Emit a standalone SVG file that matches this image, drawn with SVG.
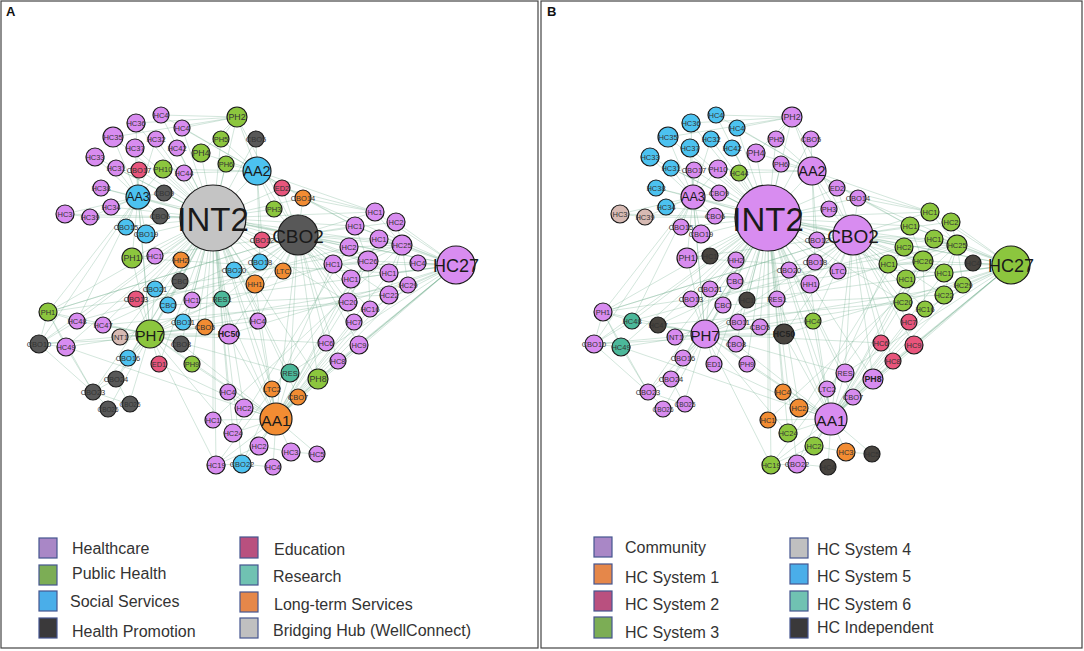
<svg xmlns="http://www.w3.org/2000/svg" xmlns:xlink="http://www.w3.org/1999/xlink" width="1084" height="651" viewBox="0 0 1084 651">
<style>
.e{fill:none;stroke:#6aaa88;stroke-opacity:.4;stroke-width:.75}
circle{stroke:#1b1b1b;stroke-width:1.2}
text{font-family:"Liberation Sans",Arial,sans-serif;fill:#333}
.t{font-size:7.5px;text-anchor:middle;dominant-baseline:central}
.s{font-size:6.4px;text-anchor:middle;dominant-baseline:central}
.m{font-size:8.8px;text-anchor:middle;dominant-baseline:central}
.b{font-weight:bold;fill:#222}
.big{text-anchor:middle;dominant-baseline:central;fill:#1a1a1a}
.hc,.co{fill:#d88cf0}.ph,.s3{fill:#8cc63e}.ss,.s5{fill:#4cc2f0}.hp{fill:#585858}.ed,.s2{fill:#e8557c}.re,.s6{fill:#4cb89a}.lt,.s1{fill:#f28c32}.br{fill:#c4c4c4}.in,.s4{fill:#d7bab3}.ind{fill:#48443f}
.sw{stroke:#45558f;stroke-width:1.2}
.lg{font-size:16px}
.pl{font-size:13px;font-weight:bold;fill:#111}
.fr{fill:#fff;stroke:#444;stroke-width:1.2}
</style>
<defs>
<g id="edges">
<path class="e" d="M213 218L161 115M213 218L136 123M213 218L182 128M213 218L113 137M213 218L156 139M213 218L237 117M213 218L221 139M213 218L256 139M213 218L95 157M213 218L135 148M213 218L177 148M213 218L201 153M213 218L226 164M213 218L257 171M213 218L116 168M213 218L139 170M213 218L163 169M213 218L184 173M213 218L101 188M213 218L164 193M213 218L138 197M213 218L111 207M213 218L65 214M213 218L90 217M213 218L160 216M213 218L126 227M213 218L146 234M213 218L132 258M213 218L155 256M213 218L181 260M213 218L234 270M213 218L180 281M213 218L282 188M213 218L303 198M213 218L274 209M213 218L298 235M213 218L262 240M213 218L260 262M213 218L283 271M213 218L375 212M213 218L355 226M213 218L349 247M213 218L333 264M213 218L255 284M213 218L258 321M213 218L348 302M213 218L290 373M213 218L318 379M213 218L272 389M213 218L298 397M213 218L276 419M213 218L228 392M213 218L244 408M213 218L213 420M213 218L233 433M213 218L216 465M213 218L242 464M213 218L155 289M213 218L136 299M213 218L168 305M213 218L192 300M213 218L222 299M213 218L48 312M213 218L77 321M213 218L103 325M213 218L150 334M213 218L120 337M213 218L183 322M213 218L205 327M213 218L229 334M213 218L181 344M213 218L39 344M213 218L66 347M213 218L128 358M213 218L159 364M213 218L192 364M213 218L116 379M213 218L93 392M213 218L456 265M213 218L402 245M213 218L368 261"/>
<path class="e" d="M298 235L375 212M298 235L396 222M298 235L355 226M298 235L379 239M298 235L349 247M298 235L402 245M298 235L333 264M298 235L368 261M298 235L351 279M298 235L389 273M298 235L348 302M298 235L370 309M298 235L389 295M298 235L456 265M298 235L257 171M298 235L303 198M298 235L282 188M298 235L274 209M298 235L262 240M298 235L260 262M298 235L283 271M298 235L255 284M298 235L258 321M298 235L290 373M298 235L318 379M298 235L276 419M298 235L229 334M298 235L150 334M298 235L138 197M298 235L237 117M298 235L354 322M298 235L326 343M298 235L359 345M298 235L338 361M298 235L222 299M298 235L132 258M298 235L48 312M298 235L103 325"/>
<path class="e" d="M150 334L48 312M150 334L77 321M150 334L103 325M150 334L39 344M150 334L66 347M150 334L120 337M150 334L128 358M150 334L159 364M150 334L192 364M150 334L116 379M150 334L93 392M150 334L109 408M150 334L129 404M150 334L155 289M150 334L136 299M150 334L168 305M150 334L183 322M150 334L205 327M150 334L229 334M150 334L181 344M150 334L180 281M150 334L276 419M150 334L233 433M150 334L216 465M150 334L290 373M150 334L222 299M150 334L132 258M150 334L138 197M150 334L258 321M150 334L348 302M150 334L326 343"/>
<path class="e" d="M276 419L228 392M276 419L244 408M276 419L213 420M276 419L233 433M276 419L259 446M276 419L291 452M276 419L317 454M276 419L216 465M276 419L242 464M276 419L273 467M276 419L272 389M276 419L298 397M276 419L290 373M276 419L318 379M276 419L326 343M276 419L338 361M276 419L359 345M276 419L354 322M276 419L348 302M276 419L370 309M276 419L389 295M276 419L408 285M276 419L192 364M276 419L181 344M276 419L229 334M276 419L258 321M276 419L255 284M276 419L222 299M276 419L159 364M276 419L351 279M276 419L389 273"/>
<path class="e" d="M456 265L375 212M456 265L396 222M456 265L402 245M456 265L368 261M456 265L418 263M456 265L389 273M456 265L408 285M456 265L389 295M456 265L351 279M456 265L333 264M456 265L379 239M456 265L355 226M456 265L370 309M456 265L348 302M456 265L359 345M456 265L338 361M456 265L318 379M456 265L298 397M456 265L290 373M456 265L303 198M456 265L229 334M456 265L276 419M402 245L375 212M402 245L396 222M402 245L379 239M402 245L368 261M402 245L389 273M402 245L349 247M402 245L355 226M402 245L333 264M402 245L408 285M402 245L389 295M368 261L333 264M368 261L349 247M368 261L351 279M368 261L389 273M368 261L379 239M368 261L355 226M368 261L348 302M368 261L370 309"/>
<path class="e" d="M138 197L113 137M138 197L136 123M138 197L95 157M138 197L116 168M138 197L139 170M138 197L101 188M138 197L111 207M138 197L65 214M138 197L90 217M138 197L126 227M138 197L146 234M138 197L160 216M138 197L164 193M138 197L163 169M138 197L135 148M138 197L156 139M138 197L132 258M138 197L48 312M138 197L39 344M138 197L77 321M138 197L150 334M257 171L237 117M257 171L221 139M257 171L256 139M257 171L201 153M257 171L226 164M257 171L282 188M257 171L303 198M257 171L274 209M257 171L262 240M257 171L260 262M257 171L184 173M257 171L163 169M257 171L182 128M257 171L161 115M257 171L375 212M257 171L355 226"/>
<path class="e" d="M65 214L90 217M48 312L66 347M48 312L39 344M48 312L77 321M48 312L93 392M48 312L136 299M39 344L93 392M39 344L66 347M39 344L77 321M93 392L109 408M93 392L129 404M93 392L116 379M93 392L66 347M116 379L129 404M120 337L333 264M103 325L348 302M77 321L349 247M48 312L298 235M39 344L229 334M66 347L276 419M155 289L402 245M136 299L368 261M132 258L389 273M168 305L389 295M183 322L408 285M192 300L456 265M213 420L402 245M216 465L368 261M233 433L349 247M242 464L333 264M259 446L379 239M237 117L161 115M237 117L182 128M237 117L136 123M237 117L201 153M237 117L221 139M237 117L113 137M303 198L375 212M303 198L355 226M282 188L375 212M216 465L242 464M216 465L259 446M242 464L273 467M291 452L317 454M259 446L291 452"/>
</g>
</defs>
<rect class="fr" x="1" y="1" width="537" height="647"/>
<rect class="fr" x="541" y="1" width="541" height="647"/>
<text class="pl" x="6" y="16">A</text>
<text class="pl" x="547" y="16">B</text>
<g id="connectors">
<use xlink:href="#edges" href="#edges"/>
<use xlink:href="#edges" href="#edges" x="555"/>
</g>
<g id="nodes-a">
<g id="a1"><circle class="hc" cx="161" cy="115" r="8"/><text class="t" x="161" y="115">HC4</text></g>
<g id="a2"><circle class="hc" cx="136" cy="123" r="9"/><text class="t" x="136" y="123">HC36</text></g>
<g id="a3"><circle class="hc" cx="182" cy="128" r="8"/><text class="t" x="182" y="128">HC4</text></g>
<g id="a4"><circle class="hc" cx="113" cy="137" r="10"/><text class="t" x="113" y="137">HC35</text></g>
<g id="a5"><circle class="hc" cx="156" cy="139" r="8"/><text class="t" x="156" y="139">HC32</text></g>
<g id="a6"><circle class="ph" cx="237" cy="117" r="10"/><text class="m" x="237" y="117">PH2</text></g>
<g id="a7"><circle class="ph" cx="221" cy="139" r="8"/><text class="t" x="221" y="139">PH5</text></g>
<g id="a8"><circle class="hp" cx="256" cy="139" r="8"/><text class="t" x="256" y="139">CBO5</text></g>
<g id="a9"><circle class="hc" cx="95" cy="157" r="9"/><text class="t" x="95" y="157">HC33</text></g>
<g id="a10"><circle class="hc" cx="135" cy="148" r="9"/><text class="t" x="135" y="148">HC37</text></g>
<g id="a11"><circle class="hc" cx="177" cy="148" r="8"/><text class="t" x="177" y="148">HC42</text></g>
<g id="a12"><circle class="ph" cx="201" cy="153" r="9"/><text class="m" x="201" y="153">PH4</text></g>
<g id="a13"><circle class="ph" cx="226" cy="164" r="8"/><text class="t" x="226" y="164">PH6</text></g>
<g id="a14"><circle class="ss" cx="257" cy="171" r="14"/><text class="big" x="257" y="171" font-size="14.5">AA2</text></g>
<g id="a15"><circle class="hc" cx="116" cy="168" r="8"/><text class="t" x="116" y="168">HC31</text></g>
<g id="a16"><circle class="ed" cx="139" cy="170" r="8"/><text class="t" x="139" y="170">CBO17</text></g>
<g id="a17"><circle class="ph" cx="163" cy="169" r="9"/><text class="t" x="163" y="169">PH10</text></g>
<g id="a18"><circle class="hc" cx="184" cy="173" r="8"/><text class="t" x="184" y="173">HC44</text></g>
<g id="a19"><circle class="hc" cx="101" cy="188" r="8"/><text class="t" x="101" y="188">HC38</text></g>
<g id="a20"><circle class="hp" cx="164" cy="193" r="8"/><text class="t" x="164" y="193">CBO9</text></g>
<g id="a21"><circle class="ss" cx="138" cy="197" r="12"/><text class="big" x="138" y="197" font-size="12.5">AA3</text></g>
<g id="a22"><circle class="br" cx="213" cy="218" r="33"/><text class="big" x="213" y="219" font-size="33">INT2</text></g>
<g id="a23"><circle class="hc" cx="111" cy="207" r="8"/><text class="t" x="111" y="207">HC34</text></g>
<g id="a24"><circle class="hc" cx="65" cy="214" r="9"/><text class="t" x="65" y="214">HC3</text></g>
<g id="a25"><circle class="hc" cx="90" cy="217" r="8"/><text class="t" x="90" y="217">HC39</text></g>
<g id="a26"><circle class="hp" cx="160" cy="216" r="8"/><text class="t" x="160" y="216">CBO6</text></g>
<g id="a27"><circle class="ss" cx="126" cy="227" r="8"/><text class="t" x="126" y="227">CBO15</text></g>
<g id="a28"><circle class="ss" cx="146" cy="234" r="9"/><text class="t" x="146" y="234">CBO19</text></g>
<g id="a29"><circle class="ph" cx="132" cy="258" r="10"/><text class="m" x="132" y="258">PH1</text></g>
<g id="a30"><circle class="hc" cx="155" cy="256" r="8"/><text class="t" x="155" y="256">HC1</text></g>
<g id="a31"><circle class="lt" cx="181" cy="260" r="8"/><text class="t" x="181" y="260">HH2</text></g>
<g id="a32"><circle class="ss" cx="234" cy="270" r="8"/><text class="t" x="234" y="270">CBO20</text></g>
<g id="a33"><circle class="hp" cx="180" cy="281" r="8"/><text class="t" x="180" y="281">CBO</text></g>
<g id="a34"><circle class="ed" cx="282" cy="188" r="8"/><text class="t" x="282" y="188">ED2</text></g>
<g id="a35"><circle class="lt" cx="303" cy="198" r="8"/><text class="t" x="303" y="198">CBO14</text></g>
<g id="a36"><circle class="ph" cx="274" cy="209" r="8"/><text class="t" x="274" y="209">PH3</text></g>
<g id="a37"><circle class="hp" cx="298" cy="235" r="20"/><text class="big" x="298" y="236" font-size="19">CBO2</text></g>
<g id="a38"><circle class="ed" cx="262" cy="240" r="8"/><text class="t" x="262" y="240">CBO12</text></g>
<g id="a39"><circle class="ss" cx="260" cy="262" r="8"/><text class="t" x="260" y="262">CBO18</text></g>
<g id="a40"><circle class="lt" cx="283" cy="271" r="8"/><text class="t" x="283" y="271">LTC</text></g>
<g id="a41"><circle class="hc" cx="375" cy="212" r="9"/><text class="t" x="375" y="212">HC1</text></g>
<g id="a42"><circle class="hc" cx="396" cy="222" r="9"/><text class="t" x="396" y="222">HC2</text></g>
<g id="a43"><circle class="hc" cx="355" cy="226" r="9"/><text class="t" x="355" y="226">HC1</text></g>
<g id="a44"><circle class="hc" cx="379" cy="239" r="9"/><text class="t" x="379" y="239">HC1</text></g>
<g id="a45"><circle class="hc" cx="349" cy="247" r="9"/><text class="t" x="349" y="247">HC2</text></g>
<g id="a46"><circle class="hc" cx="402" cy="245" r="10"/><text class="t" x="402" y="245">HC25</text></g>
<g id="a47"><circle class="hc" cx="333" cy="264" r="9"/><text class="t" x="333" y="264">HC1</text></g>
<g id="a48"><circle class="hc" cx="368" cy="261" r="10"/><text class="t" x="368" y="261">HC26</text></g>
<g id="a49"><circle class="hc" cx="418" cy="263" r="8"/><text class="t" x="418" y="263">HC4</text></g>
<g id="a50"><circle class="hc" cx="456" cy="265" r="19"/><text class="big" x="456" y="266" font-size="18">HC27</text></g>
<g id="a51"><circle class="hc" cx="351" cy="279" r="9"/><text class="t" x="351" y="279">HC1</text></g>
<g id="a52"><circle class="hc" cx="389" cy="273" r="9"/><text class="t" x="389" y="273">HC1</text></g>
<g id="a53"><circle class="hc" cx="408" cy="285" r="8"/><text class="t" x="408" y="285">HC29</text></g>
<g id="a54"><circle class="hc" cx="389" cy="295" r="9"/><text class="t" x="389" y="295">HC22</text></g>
<g id="a55"><circle class="hc" cx="348" cy="302" r="9"/><text class="t" x="348" y="302">HC20</text></g>
<g id="a56"><circle class="hc" cx="370" cy="309" r="8"/><text class="t" x="370" y="309">HC16</text></g>
<g id="a57"><circle class="lt" cx="255" cy="284" r="9"/><text class="t" x="255" y="284">HH1</text></g>
<g id="a58"><circle class="hc" cx="258" cy="321" r="8"/><text class="t" x="258" y="321">HC4</text></g>
<g id="a59"><circle class="hc" cx="354" cy="322" r="8"/><text class="t" x="354" y="322">HC7</text></g>
<g id="a60"><circle class="hc" cx="326" cy="343" r="8"/><text class="t" x="326" y="343">HC6</text></g>
<g id="a61"><circle class="hc" cx="359" cy="345" r="9"/><text class="t" x="359" y="345">HC9</text></g>
<g id="a62"><circle class="hc" cx="338" cy="361" r="8"/><text class="t" x="338" y="361">HC8</text></g>
<g id="a63"><circle class="re" cx="290" cy="373" r="9"/><text class="t" x="290" y="373">RES</text></g>
<g id="a64"><circle class="ph" cx="318" cy="379" r="10"/><text class="m" x="318" y="379">PH8</text></g>
<g id="a65"><circle class="lt" cx="272" cy="389" r="8"/><text class="t" x="272" y="389">LTC2</text></g>
<g id="a66"><circle class="lt" cx="298" cy="397" r="8"/><text class="t" x="298" y="397">CBO7</text></g>
<g id="a67"><circle class="lt" cx="276" cy="419" r="16"/><text class="big" x="276" y="420" font-size="15.5">AA1</text></g>
<g id="a68"><circle class="hc" cx="228" cy="392" r="8"/><text class="t" x="228" y="392">HC4</text></g>
<g id="a69"><circle class="hc" cx="244" cy="408" r="9"/><text class="t" x="244" y="408">HC2</text></g>
<g id="a70"><circle class="hc" cx="213" cy="420" r="8"/><text class="t" x="213" y="420">HC1</text></g>
<g id="a71"><circle class="hc" cx="233" cy="433" r="9"/><text class="t" x="233" y="433">HC24</text></g>
<g id="a72"><circle class="hc" cx="259" cy="446" r="9"/><text class="t" x="259" y="446">HC2</text></g>
<g id="a73"><circle class="hc" cx="291" cy="452" r="9"/><text class="t" x="291" y="452">HC3</text></g>
<g id="a74"><circle class="hc" cx="317" cy="454" r="8"/><text class="t" x="317" y="454">HC5</text></g>
<g id="a75"><circle class="hc" cx="216" cy="465" r="9"/><text class="t" x="216" y="465">HC19</text></g>
<g id="a76"><circle class="ss" cx="242" cy="464" r="9"/><text class="t" x="242" y="464">CBO22</text></g>
<g id="a77"><circle class="hc" cx="273" cy="467" r="8"/><text class="t" x="273" y="467">HC4</text></g>
<g id="a78"><circle class="ss" cx="155" cy="289" r="8"/><text class="t" x="155" y="289">CBO21</text></g>
<g id="a79"><circle class="ed" cx="136" cy="299" r="8"/><text class="t" x="136" y="299">CBO13</text></g>
<g id="a80"><circle class="ss" cx="168" cy="305" r="8"/><text class="t" x="168" y="305">CBO</text></g>
<g id="a81"><circle class="hc" cx="192" cy="300" r="8"/><text class="t" x="192" y="300">HC1</text></g>
<g id="a82"><circle class="re" cx="222" cy="299" r="8"/><text class="t" x="222" y="299">RES1</text></g>
<g id="a83"><circle class="ph" cx="48" cy="312" r="9"/><text class="t" x="48" y="312">PH1</text></g>
<g id="a84"><circle class="hc" cx="77" cy="321" r="8"/><text class="t" x="77" y="321">HC48</text></g>
<g id="a85"><circle class="hc" cx="103" cy="325" r="8"/><text class="t" x="103" y="325">HC47</text></g>
<g id="a86"><circle class="ph" cx="150" cy="334" r="14"/><text class="big" x="150" y="335" font-size="15">PH7</text></g>
<g id="a87"><circle class="in" cx="120" cy="337" r="8"/><text class="t" x="120" y="337">INT1</text></g>
<g id="a88"><circle class="ss" cx="183" cy="322" r="8"/><text class="t" x="183" y="322">CBO11</text></g>
<g id="a89"><circle class="lt" cx="205" cy="327" r="8"/><text class="t" x="205" y="327">CBO5</text></g>
<g id="a90"><circle class="hc" cx="229" cy="334" r="10"/><text class="m b" x="229" y="334">HC50</text></g>
<g id="a91"><circle class="hp" cx="181" cy="344" r="8"/><text class="t" x="181" y="344">CBO8</text></g>
<g id="a92"><circle class="hp" cx="39" cy="344" r="9"/><text class="t" x="39" y="344">CBO10</text></g>
<g id="a93"><circle class="hc" cx="66" cy="347" r="9"/><text class="t" x="66" y="347">HC49</text></g>
<g id="a94"><circle class="ss" cx="128" cy="358" r="8"/><text class="t" x="128" y="358">CBO16</text></g>
<g id="a95"><circle class="ed" cx="159" cy="364" r="8"/><text class="t" x="159" y="364">ED1</text></g>
<g id="a96"><circle class="ph" cx="192" cy="364" r="8"/><text class="t" x="192" y="364">PH9</text></g>
<g id="a97"><circle class="hp" cx="116" cy="379" r="8"/><text class="t" x="116" y="379">CBO24</text></g>
<g id="a98"><circle class="hp" cx="93" cy="392" r="8"/><text class="t" x="93" y="392">CBO23</text></g>
<g id="a99"><circle class="hp" cx="108" cy="409" r="8"/><text class="s" x="108" y="409">CBO26</text></g>
<g id="a100"><circle class="hp" cx="130" cy="404" r="8"/><text class="s" x="130" y="404">CBO25</text></g>
</g>
<g id="nodes-b">
<g id="b1"><circle class="s5" cx="716" cy="115" r="8"/><text class="t" x="716" y="115">HC4</text></g>
<g id="b2"><circle class="s5" cx="691" cy="123" r="9"/><text class="t" x="691" y="123">HC36</text></g>
<g id="b3"><circle class="s5" cx="737" cy="128" r="8"/><text class="t" x="737" y="128">HC4</text></g>
<g id="b4"><circle class="s5" cx="668" cy="137" r="10"/><text class="t" x="668" y="137">HC35</text></g>
<g id="b5"><circle class="s5" cx="711" cy="139" r="8"/><text class="t" x="711" y="139">HC32</text></g>
<g id="b6"><circle class="co" cx="792" cy="117" r="10"/><text class="m" x="792" y="117">PH2</text></g>
<g id="b7"><circle class="co" cx="776" cy="139" r="8"/><text class="t" x="776" y="139">PH5</text></g>
<g id="b8"><circle class="co" cx="811" cy="139" r="8"/><text class="t" x="811" y="139">CBO5</text></g>
<g id="b9"><circle class="s5" cx="650" cy="157" r="9"/><text class="t" x="650" y="157">HC33</text></g>
<g id="b10"><circle class="s5" cx="690" cy="148" r="9"/><text class="t" x="690" y="148">HC37</text></g>
<g id="b11"><circle class="s5" cx="732" cy="148" r="8"/><text class="t" x="732" y="148">HC42</text></g>
<g id="b12"><circle class="co" cx="756" cy="153" r="9"/><text class="m" x="756" y="153">PH4</text></g>
<g id="b13"><circle class="co" cx="781" cy="164" r="8"/><text class="t" x="781" y="164">PH6</text></g>
<g id="b14"><circle class="co" cx="812" cy="171" r="14"/><text class="big" x="812" y="171" font-size="14.5">AA2</text></g>
<g id="b15"><circle class="s5" cx="671" cy="168" r="8"/><text class="t" x="671" y="168">HC31</text></g>
<g id="b16"><circle class="co" cx="694" cy="170" r="8"/><text class="t" x="694" y="170">CBO17</text></g>
<g id="b17"><circle class="co" cx="718" cy="169" r="9"/><text class="t" x="718" y="169">PH10</text></g>
<g id="b18"><circle class="s3" cx="739" cy="173" r="8"/><text class="t" x="739" y="173">HC44</text></g>
<g id="b19"><circle class="s5" cx="656" cy="188" r="8"/><text class="t" x="656" y="188">HC38</text></g>
<g id="b20"><circle class="co" cx="719" cy="193" r="8"/><text class="t" x="719" y="193">CBO9</text></g>
<g id="b21"><circle class="co" cx="693" cy="197" r="12"/><text class="big" x="693" y="197" font-size="12.5">AA3</text></g>
<g id="b22"><circle class="co" cx="768" cy="218" r="33"/><text class="big" x="768" y="219" font-size="33">INT2</text></g>
<g id="b23"><circle class="s5" cx="666" cy="207" r="8"/><text class="t" x="666" y="207">HC34</text></g>
<g id="b24"><circle class="s4" cx="620" cy="214" r="9"/><text class="t" x="620" y="214">HC3</text></g>
<g id="b25"><circle class="s4" cx="645" cy="217" r="8"/><text class="t" x="645" y="217">HC39</text></g>
<g id="b26"><circle class="co" cx="715" cy="216" r="8"/><text class="t" x="715" y="216">CBO6</text></g>
<g id="b27"><circle class="co" cx="681" cy="227" r="8"/><text class="t" x="681" y="227">CBO15</text></g>
<g id="b28"><circle class="co" cx="701" cy="234" r="9"/><text class="t" x="701" y="234">CBO19</text></g>
<g id="b29"><circle class="co" cx="687" cy="258" r="10"/><text class="m" x="687" y="258">PH1</text></g>
<g id="b30"><circle class="ind" cx="710" cy="256" r="8"/><text class="t" x="710" y="256">HC1</text></g>
<g id="b31"><circle class="co" cx="736" cy="260" r="8"/><text class="t" x="736" y="260">HH2</text></g>
<g id="b32"><circle class="co" cx="789" cy="270" r="8"/><text class="t" x="789" y="270">CBO20</text></g>
<g id="b33"><circle class="co" cx="735" cy="281" r="8"/><text class="t" x="735" y="281">CBO</text></g>
<g id="b34"><circle class="co" cx="837" cy="188" r="8"/><text class="t" x="837" y="188">ED2</text></g>
<g id="b35"><circle class="co" cx="858" cy="198" r="8"/><text class="t" x="858" y="198">CBO14</text></g>
<g id="b36"><circle class="co" cx="829" cy="209" r="8"/><text class="t" x="829" y="209">PH3</text></g>
<g id="b37"><circle class="co" cx="853" cy="235" r="20"/><text class="big" x="853" y="236" font-size="19">CBO2</text></g>
<g id="b38"><circle class="co" cx="817" cy="240" r="8"/><text class="t" x="817" y="240">CBO12</text></g>
<g id="b39"><circle class="co" cx="815" cy="262" r="8"/><text class="t" x="815" y="262">CBO18</text></g>
<g id="b40"><circle class="co" cx="838" cy="271" r="8"/><text class="t" x="838" y="271">LTC</text></g>
<g id="b41"><circle class="s3" cx="930" cy="212" r="9"/><text class="t" x="930" y="212">HC1</text></g>
<g id="b42"><circle class="s3" cx="951" cy="222" r="9"/><text class="t" x="951" y="222">HC2</text></g>
<g id="b43"><circle class="s3" cx="910" cy="226" r="9"/><text class="t" x="910" y="226">HC1</text></g>
<g id="b44"><circle class="s3" cx="934" cy="239" r="9"/><text class="t" x="934" y="239">HC1</text></g>
<g id="b45"><circle class="s3" cx="904" cy="247" r="9"/><text class="t" x="904" y="247">HC2</text></g>
<g id="b46"><circle class="s3" cx="957" cy="245" r="10"/><text class="t" x="957" y="245">HC25</text></g>
<g id="b47"><circle class="s3" cx="888" cy="264" r="9"/><text class="t" x="888" y="264">HC1</text></g>
<g id="b48"><circle class="s3" cx="923" cy="261" r="10"/><text class="t" x="923" y="261">HC26</text></g>
<g id="b49"><circle class="ind" cx="973" cy="263" r="8"/><text class="t" x="973" y="263">HC4</text></g>
<g id="b50"><circle class="s3" cx="1011" cy="265" r="19"/><text class="big" x="1011" y="266" font-size="18">HC27</text></g>
<g id="b51"><circle class="s3" cx="906" cy="279" r="9"/><text class="t" x="906" y="279">HC1</text></g>
<g id="b52"><circle class="s3" cx="944" cy="273" r="9"/><text class="t" x="944" y="273">HC1</text></g>
<g id="b53"><circle class="s3" cx="963" cy="285" r="8"/><text class="t" x="963" y="285">HC29</text></g>
<g id="b54"><circle class="s3" cx="944" cy="295" r="9"/><text class="t" x="944" y="295">HC22</text></g>
<g id="b55"><circle class="s3" cx="903" cy="302" r="9"/><text class="t" x="903" y="302">HC20</text></g>
<g id="b56"><circle class="s3" cx="925" cy="309" r="8"/><text class="t" x="925" y="309">HC16</text></g>
<g id="b57"><circle class="co" cx="810" cy="284" r="9"/><text class="t" x="810" y="284">HH1</text></g>
<g id="b58"><circle class="s3" cx="813" cy="321" r="8"/><text class="t" x="813" y="321">HC4</text></g>
<g id="b59"><circle class="s2" cx="909" cy="322" r="8"/><text class="t" x="909" y="322">HC7</text></g>
<g id="b60"><circle class="s2" cx="881" cy="343" r="8"/><text class="t" x="881" y="343">HC6</text></g>
<g id="b61"><circle class="s2" cx="914" cy="345" r="9"/><text class="t" x="914" y="345">HC9</text></g>
<g id="b62"><circle class="s2" cx="893" cy="361" r="8"/><text class="t" x="893" y="361">HC8</text></g>
<g id="b63"><circle class="co" cx="845" cy="373" r="9"/><text class="t" x="845" y="373">RES</text></g>
<g id="b64"><circle class="co" cx="873" cy="379" r="10"/><text class="m b" x="873" y="379">PH8</text></g>
<g id="b65"><circle class="co" cx="827" cy="389" r="8"/><text class="t" x="827" y="389">LTC2</text></g>
<g id="b66"><circle class="co" cx="853" cy="397" r="8"/><text class="t" x="853" y="397">CBO7</text></g>
<g id="b67"><circle class="co" cx="831" cy="419" r="16"/><text class="big" x="831" y="420" font-size="15.5">AA1</text></g>
<g id="b68"><circle class="s1" cx="783" cy="392" r="8"/><text class="t" x="783" y="392">HC4</text></g>
<g id="b69"><circle class="s1" cx="799" cy="408" r="9"/><text class="t" x="799" y="408">HC2</text></g>
<g id="b70"><circle class="s1" cx="768" cy="420" r="8"/><text class="t" x="768" y="420">HC1</text></g>
<g id="b71"><circle class="s3" cx="788" cy="433" r="9"/><text class="t" x="788" y="433">HC24</text></g>
<g id="b72"><circle class="s3" cx="814" cy="446" r="9"/><text class="t" x="814" y="446">HC2</text></g>
<g id="b73"><circle class="s1" cx="846" cy="452" r="9"/><text class="t" x="846" y="452">HC3</text></g>
<g id="b74"><circle class="ind" cx="872" cy="454" r="8"/><text class="t" x="872" y="454">HC5</text></g>
<g id="b75"><circle class="s3" cx="771" cy="465" r="9"/><text class="t" x="771" y="465">HC19</text></g>
<g id="b76"><circle class="co" cx="797" cy="464" r="9"/><text class="t" x="797" y="464">CBO22</text></g>
<g id="b77"><circle class="ind" cx="828" cy="467" r="8"/><text class="t" x="828" y="467">HC4</text></g>
<g id="b78"><circle class="co" cx="710" cy="289" r="8"/><text class="t" x="710" y="289">CBO21</text></g>
<g id="b79"><circle class="co" cx="691" cy="299" r="8"/><text class="t" x="691" y="299">CBO13</text></g>
<g id="b80"><circle class="co" cx="723" cy="305" r="8"/><text class="t" x="723" y="305">CBO</text></g>
<g id="b81"><circle class="ind" cx="747" cy="300" r="8"/><text class="t" x="747" y="300">HC1</text></g>
<g id="b82"><circle class="co" cx="777" cy="299" r="8"/><text class="t" x="777" y="299">RES1</text></g>
<g id="b83"><circle class="co" cx="603" cy="312" r="9"/><text class="t" x="603" y="312">PH1</text></g>
<g id="b84"><circle class="s6" cx="632" cy="321" r="8"/><text class="t" x="632" y="321">HC48</text></g>
<g id="b85"><circle class="ind" cx="658" cy="325" r="8"/><text class="t" x="658" y="325">HC47</text></g>
<g id="b86"><circle class="co" cx="705" cy="334" r="14"/><text class="big" x="705" y="335" font-size="15">PH7</text></g>
<g id="b87"><circle class="co" cx="675" cy="337" r="8"/><text class="t" x="675" y="337">INT1</text></g>
<g id="b88"><circle class="co" cx="738" cy="322" r="8"/><text class="t" x="738" y="322">CBO11</text></g>
<g id="b89"><circle class="co" cx="760" cy="327" r="8"/><text class="t" x="760" y="327">CBO5</text></g>
<g id="b90"><circle class="ind" cx="784" cy="334" r="10"/><text class="m b" x="784" y="334">HC50</text></g>
<g id="b91"><circle class="co" cx="736" cy="344" r="8"/><text class="t" x="736" y="344">CBO8</text></g>
<g id="b92"><circle class="co" cx="594" cy="344" r="9"/><text class="t" x="594" y="344">CBO10</text></g>
<g id="b93"><circle class="s6" cx="621" cy="347" r="9"/><text class="t" x="621" y="347">HC49</text></g>
<g id="b94"><circle class="co" cx="683" cy="358" r="8"/><text class="t" x="683" y="358">CBO16</text></g>
<g id="b95"><circle class="co" cx="714" cy="364" r="8"/><text class="t" x="714" y="364">ED1</text></g>
<g id="b96"><circle class="co" cx="747" cy="364" r="8"/><text class="t" x="747" y="364">PH9</text></g>
<g id="b97"><circle class="co" cx="671" cy="379" r="8"/><text class="t" x="671" y="379">CBO24</text></g>
<g id="b98"><circle class="co" cx="648" cy="392" r="8"/><text class="t" x="648" y="392">CBO23</text></g>
<g id="b99"><circle class="co" cx="663" cy="409" r="8"/><text class="s" x="663" y="409">CBO26</text></g>
<g id="b100"><circle class="co" cx="685" cy="404" r="8"/><text class="s" x="685" y="404">CBO25</text></g>
</g>
<g id="legend-a">
<rect class="sw" x="39" y="538" width="18" height="20" fill="#a987c6"/><text class="lg" x="72" y="554">Healthcare</text>
<rect class="sw" x="39" y="565" width="18" height="20" fill="#7cad55"/><text class="lg" x="72" y="579">Public Health</text>
<rect class="sw" x="39" y="591" width="18" height="20" fill="#4aaee9"/><text class="lg" x="70" y="607">Social Services</text>
<rect class="sw" x="39" y="618" width="18" height="20" fill="#3a393a"/><text class="lg" x="72" y="637">Health Promotion</text>
<rect class="sw" x="240" y="537" width="18" height="21" fill="#b9507f"/><text class="lg" x="274" y="555">Education</text>
<rect class="sw" x="240" y="565" width="18" height="20" fill="#70c2b2"/><text class="lg" x="273" y="582">Research</text>
<rect class="sw" x="240" y="592" width="18" height="20" fill="#e5874a"/><text class="lg" x="274" y="610">Long-term Services</text>
<rect class="sw" x="240" y="618" width="18" height="20" fill="#c0c0c0"/><text class="lg" x="273" y="636">Bridging Hub (WellConnect)</text>
</g>
<g id="legend-b">
<rect class="sw" x="594" y="537" width="18" height="20" fill="#a987c6"/><text class="lg" x="625" y="553">Community</text>
<rect class="sw" x="594" y="564" width="18" height="20" fill="#e5874a"/><text class="lg" x="625" y="583">HC System 1</text>
<rect class="sw" x="594" y="591" width="18" height="20" fill="#b9507f"/><text class="lg" x="625" y="610">HC System 2</text>
<rect class="sw" x="594" y="617" width="18" height="21" fill="#7cad55"/><text class="lg" x="625" y="638">HC System 3</text>
<rect class="sw" x="790" y="538" width="18" height="20" fill="#c0c0c0"/><text class="lg" x="817" y="555">HC System 4</text>
<rect class="sw" x="790" y="564" width="18" height="20" fill="#4aaee9"/><text class="lg" x="817" y="582">HC System 5</text>
<rect class="sw" x="790" y="591" width="18" height="20" fill="#70c2b2"/><text class="lg" x="817" y="610">HC System 6</text>
<rect class="sw" x="790" y="618" width="18" height="20" fill="#3a393a"/><text class="lg" x="817" y="633">HC Independent</text>
</g>
</svg>
